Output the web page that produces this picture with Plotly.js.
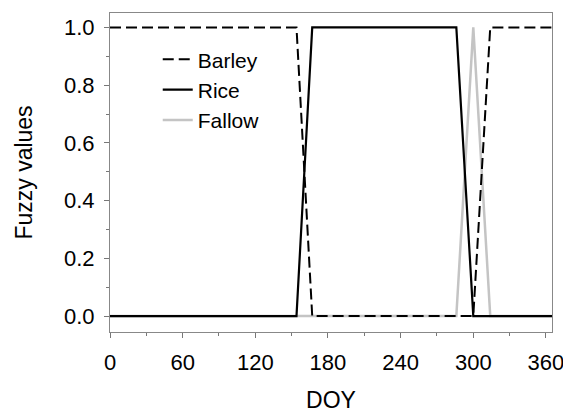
<!DOCTYPE html>
<html>
<head>
<meta charset="utf-8">
<script src="https://cdn.plot.ly/plotly-3.0.1.min.js"></script>
<style>html,body{margin:0;padding:0;background:#fff;}#chart{width:563px;height:413px;}</style>
</head>
<body>
<div id="chart"></div>
<script>
// Data (DOY vs fuzzy membership)
const barleyDOY = [0, 154, 167, 300, 314, 365];
const barleyVal = [1, 1, 0, 0, 1, 1];
const riceDOY = [0, 154, 167, 286, 300, 365];
const riceVal = [0, 0, 1, 1, 0, 0];
const fallowDOY = [0, 286, 300, 314, 365];
const fallowVal = [0, 0, 1, 0, 0];
const xTicks = [0, 60, 120, 180, 240, 300, 360];
const yTicks = [0, 0.2, 0.4, 0.6, 0.8, 1.0];
const yTickText = ['0.0', '0.2', '0.4', '0.6', '0.8', '1.0'];

const FONT = 'Liberation Sans, Arial, sans-serif';

const traces = [
  {x: barleyDOY, y: barleyVal, name: 'Barley', mode: 'lines',
   line: {color: '#000', width: 2, dash: '11px,5px'}},
  {x: riceDOY, y: riceVal, name: 'Rice', mode: 'lines',
   line: {color: '#000', width: 2.2}},
  {x: fallowDOY, y: fallowVal, name: 'Fallow', mode: 'lines',
   line: {color: '#c4c4c4', width: 2.5}}
];

// Draw order: fallow under black lines, legend order kept
const drawTraces = [traces[2], traces[1], traces[0]];
drawTraces[0].legendrank = 3; drawTraces[1].legendrank = 2; drawTraces[2].legendrank = 1;

const layout = {
  width: 563, height: 413,
  margin: {l: 110, r: 11, t: 13, b: 81},
  paper_bgcolor: '#fff', plot_bgcolor: '#fff',
  font: {family: FONT, color: '#000', size: 21},
  showlegend: true,
  legend: {x: 0.108, y: 0.918, xanchor: 'left', yanchor: 'top',
           bgcolor: 'rgba(0,0,0,0)', font: {size: 21, family: FONT},
           tracegroupgap: 0, traceorder: 'normal'},
  xaxis: {
    range: [0, 365], tickmode: 'array', tickvals: xTicks,
    ticks: 'outside', ticklen: 5, tickcolor: '#777', tickwidth: 1,
    showline: true, linecolor: '#888', linewidth: 1, mirror: true,
    showgrid: false, zeroline: false,
    tickfont: {size: 22, family: FONT}, ticklabelstandoff: 6,
    ticklabeloverflow: 'allow',
    minor: {dtick: 30, tick0: 0, ticks: 'outside', ticklen: 3, tickcolor: '#777', showgrid: false},
    title: {text: 'DOY', font: {size: 23, family: FONT}, standoff: 27}
  },
  yaxis: {
    range: [-0.055, 1.05], tickmode: 'array', tickvals: yTicks, ticktext: yTickText,
    ticks: 'outside', ticklen: 5, tickcolor: '#777', tickwidth: 1,
    showline: true, linecolor: '#888', linewidth: 1, mirror: true,
    showgrid: false, zeroline: false,
    tickfont: {size: 22, family: FONT}, ticklabelstandoff: 5,
    minor: {dtick: 0.1, tick0: 0, ticks: 'outside', ticklen: 3, tickcolor: '#777', showgrid: false},
    title: {text: 'Fuzzy values', font: {size: 23, family: FONT}, standoff: 24}
  }
};

Plotly.newPlot('chart', drawTraces, layout, {displayModeBar: false, staticPlot: true});
</script>
</body>
</html>
